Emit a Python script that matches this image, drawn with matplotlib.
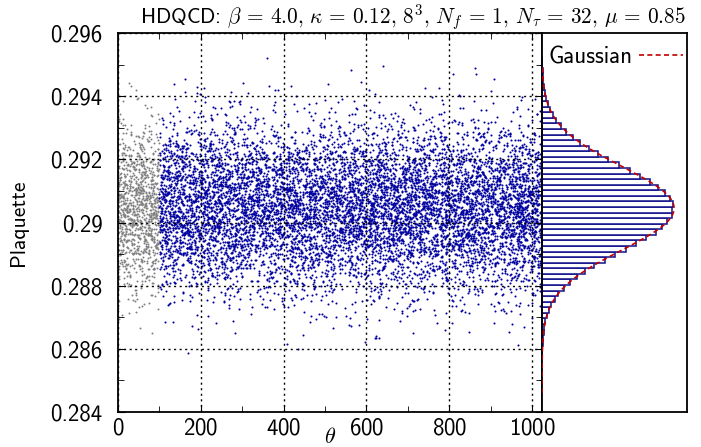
import numpy as np
import matplotlib
matplotlib.use("Agg")
import matplotlib.pyplot as plt

# histogram of the plaquette (bins, bottom to top)
bin_start = 0.28573
bin_width = 0.0001764
hist_counts = [1, 1, 3, 4, 6, 8, 12, 18, 25, 34, 46, 60, 79, 101, 127, 156,
               190, 229, 266, 306, 344, 377, 414, 437, 456, 472, 475,
               478, 466, 448, 423, 392, 356, 319, 280, 242, 205, 171, 139,
               112, 89, 68, 52, 39, 29, 21, 15, 10, 7, 5, 3, 2, 1, 1]

# gaussian fit
gauss_mean = 0.29045
gauss_sigma = 0.00132

therm_end = 100      # grey points = thermalisation
theta_end = 1021

x_ticks = [0, 200, 400, 600, 800, 1000]
y_ticks = [0.284, 0.286, 0.288, 0.29, 0.292, 0.294, 0.296]
y_ticklabels = ["0.284", "0.286", "0.288", "0.29", "0.292", "0.294", "0.296"]

plt.rcParams['font.family'] = ['cmss10', 'DejaVu Sans']
plt.rcParams['mathtext.fontset'] = 'cm'
plt.rcParams['axes.formatter.use_mathtext'] = True


def scramble(idx, seed):
    # deterministic scrambling of the entry index -> [0, 1)
    v = np.sin(idx * 12.9898 + seed * 78.233) * 43758.5453
    return v - np.floor(v)


fig = plt.figure(figsize=(7.01, 4.47), dpi=100)
ax = fig.add_axes([118 / 701, 1 - 412 / 447, 424 / 701, 379 / 447])
axh = fig.add_axes([542 / 701, 1 - 412 / 447, 145 / 701, 379 / 447], sharey=ax)

# spread the histogram entries over the monte carlo time axis
counts = np.array(hist_counts)
n = counts.sum()
j = np.arange(1, n + 1)
bin_idx = np.repeat(np.arange(len(counts)), counts)
ys = bin_start + bin_width * (bin_idx + scramble(j, 1))
xs = therm_end + (theta_end - therm_end) * scramble(j, 2)

grey_counts = np.round(counts * therm_end / (theta_end - therm_end)).astype(int)
m = grey_counts.sum()
k = np.arange(1, m + 1)
gidx = np.repeat(np.arange(len(grey_counts)), grey_counts)
gy = bin_start + bin_width * (gidx + scramble(k, 3))
gx = therm_end * scramble(k, 4)

ax.scatter(gx, gy, s=2.0, color='#808080', linewidths=0, zorder=2)
ax.scatter(xs, ys, s=2.2, color='#0000a0', linewidths=0, zorder=2)

ax.set_xlim(0, 1024)
ax.set_ylim(0.284, 0.296)
ax.set_xticks(x_ticks)
ax.set_xticks([100, 300, 500, 700, 900], minor=True)
ax.set_yticks(y_ticks)
ax.set_yticklabels(y_ticklabels)
ax.set_yticks([0.285, 0.287, 0.289, 0.291, 0.293, 0.295], minor=True)
ax.tick_params(which='both', direction='in', top=True, right=True, labelsize=16.5)
ax.tick_params(which='major', length=5)
ax.tick_params(which='minor', length=4)
ax.tick_params(axis='y', pad=11)
ax.tick_params(axis='x', pad=4)
ax.grid(True, which='major', color='black', linestyle=(0, (1.5, 2.5)), linewidth=1.0)
ax.set_axisbelow(False)
ax.set_ylabel('Plaquette', fontsize=15.5, labelpad=16)
for s in ax.spines.values():
    s.set_linewidth(1.3)
fig.text(330 / 701, 1 - 437 / 447, r'$\theta$', fontsize=16, ha='center', va='center')

# histogram panel
edges = bin_start + bin_width * np.arange(len(counts))
axh.barh(edges, counts, height=bin_width, align='edge', left=0,
         facecolor='white', edgecolor='#10108a', linewidth=1.1, zorder=2)
yg = np.linspace(0.2846, 0.2950, 400)
amp = n * bin_width / (np.sqrt(2 * np.pi) * gauss_sigma)
axh.plot(amp * np.exp(-0.5 * ((yg - gauss_mean) / gauss_sigma) ** 2), yg,
         color='#c00000', linestyle=(0, (3, 2)), linewidth=1.2, zorder=3,
         label='Gaussian')
axh.set_xlim(0, 528)
axh.tick_params(left=False, labelleft=False, bottom=False, labelbottom=False)
for s in axh.spines.values():
    s.set_linewidth(1.3)
axh.legend(loc='center right', bbox_to_anchor=(141 / 145, (412 - 57) / 379),
           frameon=False, markerfirst=False, fontsize=16.5, handlelength=1.9,
           borderpad=0, borderaxespad=0, handletextpad=0.3)

title = (r'HDQCD: $\beta\,=\,\mathsf{4.0},\,\kappa\,=\,\mathsf{0.12},\,'
         r'\mathsf{8}^\mathsf{3},\,N_f\,=\,\mathsf{1},\,N_\tau\,=\,\mathsf{32},\,'
         r'\mu\,=\,\mathsf{0.85}$')
fig.text(413 / 701, 1 - 18 / 447, title, ha='center', va='center', fontsize=15.3)

fig.savefig('out.png', dpi=100)
